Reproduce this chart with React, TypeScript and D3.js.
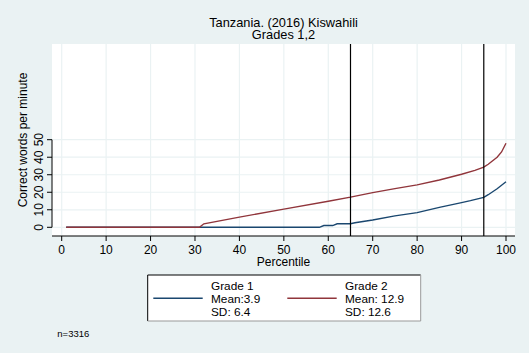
import React from 'react';
import * as d3 from 'd3';

// percentile readings for each grade (correct words per minute)
const g1Pct = [1, 58, 59, 61, 62, 65, 66, 70, 75, 80, 85, 90, 92, 95, 96, 98, 100];
const g1Val = [0, 0, 1, 1, 2, 2, 2.6, 4.2, 6.5, 8.4, 11.4, 14.1, 15.2, 17.1, 18.6, 22, 26];
const g2Pct = [1, 31, 32, 40, 50, 60, 65, 70, 75, 80, 85, 90, 93, 95, 96, 97, 98, 99, 100];
const g2Val = [0, 0, 2, 5.8, 10.4, 14.9, 17.2, 19.8, 22.1, 24.2, 27, 30.3, 32.5, 34.3, 36, 38, 40, 43, 48];

const xTicks = [0, 10, 20, 30, 40, 50, 60, 70, 80, 90, 100];
const yTicks = [0, 10, 20, 30, 40, 50];
const refLines = [65, 95];

const legendItems = [
  { label: 'Grade 1', mean: 'Mean:3.9', sd: 'SD: 6.4', color: '#1a476f' },
  { label: 'Grade 2', mean: 'Mean: 12.9', sd: 'SD: 12.6', color: '#90353b' },
];

const W = 529;
const H = 353;
const plot = { left: 52, right: 515, top: 44, bottom: 236 };
const BG = '#eaf2f3';
const FONT = '"Liberation Sans", Arial, sans-serif';

export default function App() {
  const x = d3.scaleLinear().domain([0, 100]).range([61.7, 506]);
  const y = d3.scaleLinear().domain([0, 50]).range([227.3, 139.7]);

  const line = d3
    .line<[number, number]>()
    .x((d) => x(d[0]))
    .y((d) => y(d[1]));

  const g1 = g1Pct.map((p, i) => [p, g1Val[i]] as [number, number]);
  const g2 = g2Pct.map((p, i) => [p, g2Val[i]] as [number, number]);
  const cx = (plot.left + plot.right) / 2;

  return (
    <svg
      width={W}
      height={H}
      style={{ position: 'absolute', left: 0, top: 0, fontFamily: FONT }}
    >
      <rect width={W} height={H} fill={BG} />
      <rect
        x={plot.left}
        y={plot.top}
        width={plot.right - plot.left}
        height={plot.bottom - plot.top}
        fill="#fff"
      />

      {/* grid */}
      {xTicks.map((t) => (
        <line key={'gx' + t} x1={x(t)} x2={x(t)} y1={plot.top} y2={plot.bottom} stroke={BG} strokeWidth={1.2} />
      ))}
      {yTicks.map((t) => (
        <line key={'gy' + t} x1={plot.left} x2={plot.right} y1={y(t)} y2={y(t)} stroke={BG} strokeWidth={1.2} />
      ))}

      {/* series */}
      <path d={line(g1) || ''} fill="none" stroke={legendItems[0].color} strokeWidth={1.4} />
      <path d={line(g2) || ''} fill="none" stroke={legendItems[1].color} strokeWidth={1.4} />

      {refLines.map((r) => (
        <line key={'r' + r} x1={x(r)} x2={x(r)} y1={plot.top} y2={plot.bottom} stroke="#000" strokeWidth={1.2} />
      ))}

      {/* y axis */}
      <line x1={plot.left} x2={plot.left} y1={y(50)} y2={y(0)} stroke="#000" />
      {yTicks.map((t) => (
        <g key={'yt' + t}>
          <line x1={plot.left - 5} x2={plot.left} y1={y(t)} y2={y(t)} stroke="#000" />
          <text
            transform={`translate(43.3,${y(t)}) rotate(-90)`}
            textAnchor="middle"
            fontSize={12}
          >
            {t}
          </text>
        </g>
      ))}
      <text transform={`translate(26.7,${(plot.top + plot.bottom) / 2}) rotate(-90)`} textAnchor="middle" fontSize={12}>
        Correct words per minute
      </text>

      {/* x axis */}
      <line x1={plot.left} x2={plot.right} y1={plot.bottom} y2={plot.bottom} stroke="#000" />
      {xTicks.map((t) => (
        <g key={'xt' + t}>
          <line x1={x(t)} x2={x(t)} y1={plot.bottom} y2={plot.bottom + 5} stroke="#000" />
          <text x={x(t)} y={253.5} textAnchor="middle" fontSize={12}>
            {t}
          </text>
        </g>
      ))}
      <text x={cx} y={266} textAnchor="middle" fontSize={12}>
        Percentile
      </text>

      {/* titles */}
      <text x={cx} y={26.5} textAnchor="middle" fontSize={12.8}>
        Tanzania. (2016) Kiswahili
      </text>
      <text x={cx} y={38.5} textAnchor="middle" fontSize={12.8}>
        Grades 1,2
      </text>

      {/* legend */}
      <rect x={147.7} y={275} width={273} height={46} fill="#fff" />
      <line x1={147.7} x2={147.7} y1={275} y2={321} stroke="#000" />
      <line x1={147.7} x2={420.7} y1={275} y2={275} stroke="#000" />
      <line x1={420.7} x2={420.7} y1={275} y2={321} stroke="#999" />
      <line x1={147.7} x2={420.7} y1={321} y2={321} stroke="#999" />
      {legendItems.map((it, i) => {
        const lx = 153.3 + i * 134;
        return (
          <g key={it.label}>
            <line x1={lx} x2={lx + 49.4} y1={298.3} y2={298.3} stroke={it.color} strokeWidth={1.4} />
            <text x={lx + 57.7} y={290} fontSize={11.8}>{it.label}</text>
            <text x={lx + 57.7} y={303} fontSize={11.8}>{it.mean}</text>
            <text x={lx + 57.7} y={315.5} fontSize={11.8}>{it.sd}</text>
          </g>
        );
      })}

      <text x={57.3} y={337} fontSize={9.5}>
        n=3316
      </text>
    </svg>
  );
}
